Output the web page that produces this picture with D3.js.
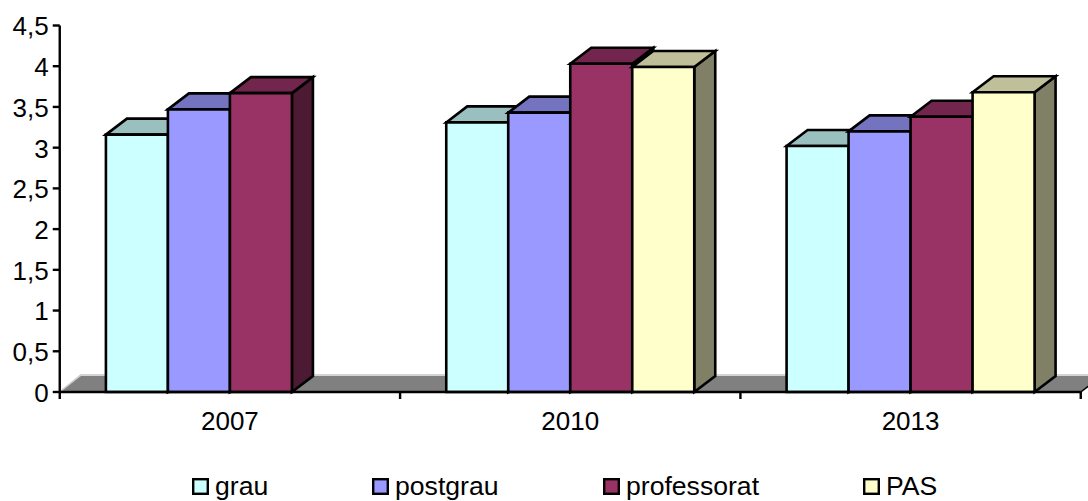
<!DOCTYPE html>
<html><head><meta charset="utf-8">
<script src="https://cdn.jsdelivr.net/npm/d3@7"></script>
<style>html,body{margin:0;padding:0;background:#fff;overflow:hidden}svg{display:block}
text{font-family:"Liberation Sans",Arial,sans-serif;fill:#000}</style></head><body>
<svg id="c" width="1088" height="501"></svg>
<script>
const years = ["2007","2010","2013"];
const seriesNames = ["grau","postgrau","professorat","PAS"];
const grau = [3.16,3.31,3.02];
const postgrau = [3.47,3.43,3.2];
const professorat = [3.67,4.03,3.38];
const pas = [null,3.99,3.68];
const seriesValues = [grau,postgrau,professorat,pas];
const colors = ["#CCFFFF","#9999FF","#993366","#FFFFCC"];
const yTicks = [0,0.5,1,1.5,2,2.5,3,3.5,4,4.5];
const legendX = [192,372,603,863];

const W=1088,H=501, L=59.75,R=1080.75,T=25.5,B=392, DX=21,DY=16, FS=26, LFS=26.6;
const svg=d3.select("#c");
const y=d3.scaleLinear().domain([0,4.5]).range([B,T]);
const x0=d3.scaleBand().domain(years).range([L,R]);
const x1=d3.scaleBand().domain(seriesNames).range([0,248]);
const off=(x0.bandwidth()-248)/2;
const edge=d3.scaleLinear().domain([0,3]).range([L,R]);
const shade=(c,k)=>{const r=d3.rgb(c);return d3.rgb(r.r*k,r.g*k,r.b*k).formatHex();};
const poly=p=>"M"+p.map(q=>q.join(",")).join("L")+"Z";

// floor
svg.append("path").attr("d",poly([[L,B],[L+DX,B-DY],[R+DX,B-DY],[R,B]])).attr("fill","#808080");
svg.append("path").attr("d",`M${L},${B}L${L+DX},${B-DY-1}L${R+DX},${B-DY-1}`).attr("fill","none").attr("stroke","#c8c8c8").attr("stroke-width",1.5);
svg.append("path").attr("d",`M${R},${B}L${R+DX},${B-DY}`).attr("fill","none").attr("stroke","#000").attr("stroke-width",1.5);

// bars
const sw=2.6;
years.forEach((yr,i)=>{
  seriesNames.forEach((s,j)=>{
    const v=seriesValues[j][i]; if(v==null) return;
    const a=x0(yr)+off+x1(s), b=a+x1.bandwidth(), t=y(v);
    const g=svg.append("g").attr("stroke","#000").attr("stroke-width",sw).attr("stroke-linejoin","miter");
    g.append("path").attr("d",poly([[b,B],[b+DX,B-DY],[b+DX,t-DY],[b,t]])).attr("fill",shade(colors[j],.5));
    g.append("path").attr("d",poly([[a,t],[a+DX,t-DY],[b+DX,t-DY],[b,t]])).attr("fill",shade(colors[j],.75));
    g.append("path").attr("d",poly([[a,t],[b,t],[b,B],[a,B]])).attr("fill",colors[j]);
  });
});

// axes
const fmt=d=>String(d).replace(".",",");
const ay=svg.append("g").attr("transform",`translate(${L},0)`).call(d3.axisLeft(y).tickValues(yTicks).tickFormat(fmt).tickSize(7).tickPadding(4).tickSizeOuter(0).offset(0));
const ax=svg.append("g").attr("transform",`translate(0,${B})`).call(d3.axisBottom(edge).tickValues([0,1,2,3]).tickFormat("").tickSize(7).tickSizeOuter(0).offset(0));
const al=svg.append("g").attr("transform",`translate(0,${B})`).call(d3.axisBottom(x0).tickSize(0).tickPadding(20));
al.select(".domain").remove();
[ay,ax].forEach(g=>{g.selectAll("path,line").attr("stroke","#000").attr("stroke-width",2.4);});
[ay,al].forEach(g=>g.selectAll("text").attr("font-size",FS).attr("font-family","Liberation Sans").attr("fill","#000"));
ay.selectAll("text").attr("dy","0.38em");

// legend
const lg=svg.append("g");
seriesNames.forEach((s,j)=>{
  lg.append("rect").attr("x",legendX[j]+1.2).attr("y",479.2).attr("width",14.6).attr("height",14.6).attr("fill",colors[j]).attr("stroke","#000").attr("stroke-width",2.4);
  lg.append("text").attr("x",legendX[j]+23).attr("y",495).attr("font-size",LFS).text(s);
});
</script></body></html>
